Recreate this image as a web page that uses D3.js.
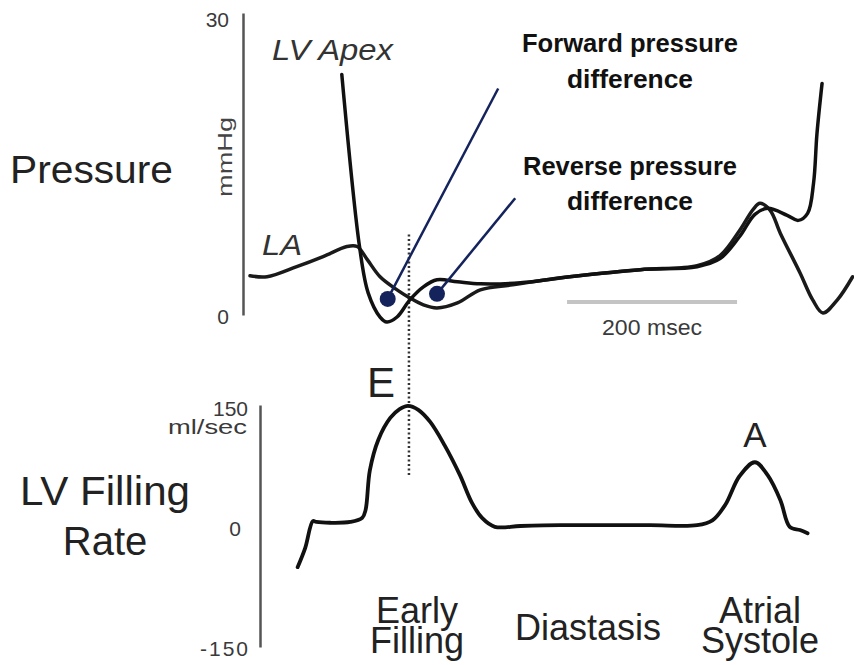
<!DOCTYPE html>
<html>
<head>
<meta charset="utf-8">
<script src="https://cdn.jsdelivr.net/npm/d3@7"></script>
<style>
  body { margin: 0; background: #fff; }
  svg { display: block; }
  text { font-family: "Liberation Sans", Arial, sans-serif; }
</style>
</head>
<body>
<svg id="chart" width="854" height="665"></svg>
<script>
// time in msec, pressure in mmHg, filling rate in ml/sec
const laTime     = [0, 20, 55, 86, 114, 126, 138, 153, 173, 188, 204, 220, 244, 271, 309, 376, 459, 526, 553, 576, 592, 600, 612, 624, 647, 662, 674, 691, 709];
const laPressure = [3.9, 3.8, 4.8, 5.8, 6.8, 6.8, 5.5, 3.8, 2.5, 1.7, 1.0, 0.7, 1.2, 2.5, 3.0, 3.8, 4.5, 4.9, 5.9, 8.4, 10.5, 11.1, 10.4, 8.1, 4.2, 1.5, 0.2, 1.5, 3.8];

const lvTime     = [108, 129, 139, 153, 161, 173, 188, 204, 220, 244, 271, 318, 376, 459, 526, 553, 576, 594, 609, 632, 645, 656, 663, 667, 673];
const lvPressure = [23.9, 6.7, 2.2, -0.2, -0.7, -0.2, 1.5, 2.8, 3.5, 3.3, 3.1, 3.2, 3.8, 4.5, 4.8, 5.6, 7.8, 10.0, 10.6, 9.9, 9.4, 10.1, 13.1, 18, 23];

const flowTime = [56, 65, 74, 78, 94, 118, 132, 136, 141, 151, 165, 176, 186, 198, 212, 229, 247, 261, 273, 288, 318, 365, 412, 471, 526, 544, 559, 576, 594, 609, 624, 635, 647, 656];
const flowRate = [-51, -27, 6, 5, 4, 5, 10, 20, 69, 107, 134, 145, 149, 144, 129, 100, 63, 29, 10, -1, 0, 1, 1, 1, 1, 7, 26, 62, 79, 63, 32, -1, -5, -9];

const pressureTicks = [0, 30];
const flowTicks = [150, 0, -150];

// annotation points: blue dots and where their leader lines end
const dotTime = [162, 220];
const dotPressure = [1.6, 2.1];
const leaderTime = [292, 312];
const leaderPressure = [22.5, 11.6];
const annotationLabels = [["Forward pressure", "difference"], ["Reverse pressure", "difference"]];

const eTime = 187;          // peak E, dotted marker
const scaleBarStart = 373;  // 200 msec bar
const scaleBarMs = 200;

const phaseLabels = [["Early", "Filling"], ["Diastasis"], ["Atrial", "Systole"]];

const svg = d3.select("#chart");

var x = d3.scaleLinear().domain([0, 710]).range([250, 853.5]);
var yP = d3.scaleLinear().domain([0, 30]).range([315, 13]);
var yF = d3.scaleLinear().domain([-150, 150]).range([647, 405]);

// axes
var axP = svg.append("g")
  .attr("transform", "translate(243,0)")
  .call(d3.axisLeft(yP).tickValues(pressureTicks).tickSize(0).tickSizeOuter(0).tickPadding(14).tickFormat(d => String(d)));
axP.selectAll("text").filter(d => d === 30).attr("dy", "0.65em");
axP.selectAll("text").filter(d => d === 0).attr("dy", "0.42em");

var axF = svg.append("g")
  .attr("transform", "translate(260,0)")
  .call(d3.axisLeft(yF).tickValues(flowTicks).tickSize(0).tickSizeOuter(0).tickPadding(12).tickFormat(d => String(d)));
axF.selectAll("text").filter(d => d === 150).attr("dy", "0.5em");
axF.selectAll("text").filter(d => d === 0).attr("dx", "-7").attr("dy", "0.45em");
axF.selectAll("text").filter(d => d === -150).attr("dy", "0.4em").attr("textLength", 48).attr("lengthAdjust", "spacing");

svg.selectAll(".domain").attr("stroke", "#555").attr("stroke-width", 2.5);
svg.selectAll(".tick text").attr("font-size", 21).attr("fill", "#3a3a3a").attr("font-family", "Liberation Sans, Arial, sans-serif");

svg.append("text")
  .attr("transform", "translate(232,157) rotate(-90)")
  .attr("text-anchor", "middle")
  .attr("font-size", 20)
  .attr("fill", "#444")
  .attr("textLength", 80)
  .attr("lengthAdjust", "spacingAndGlyphs")
  .text("mmHg");

svg.append("text")
  .attr("x", 247).attr("y", 434)
  .attr("text-anchor", "end")
  .attr("font-size", 21)
  .attr("fill", "#3a3a3a")
  .attr("textLength", 79)
  .attr("lengthAdjust", "spacingAndGlyphs")
  .text("ml/sec");

// panel titles
svg.append("text").attr("x", 10).attr("y", 183).attr("font-size", 39).attr("fill", "#222")
  .attr("textLength", 163).attr("lengthAdjust", "spacingAndGlyphs").text("Pressure");
svg.append("text").attr("x", 105).attr("y", 505).attr("text-anchor", "middle").attr("font-size", 40).attr("fill", "#222")
  .attr("textLength", 170).attr("lengthAdjust", "spacingAndGlyphs").text("LV Filling");
svg.append("text").attr("x", 105).attr("y", 555).attr("text-anchor", "middle").attr("font-size", 40).attr("fill", "#222").text("Rate");

// 200 msec scale bar
svg.append("line")
  .attr("x1", x(scaleBarStart)).attr("x2", x(scaleBarStart + scaleBarMs))
  .attr("y1", yP(1.3)).attr("y2", yP(1.3))
  .attr("stroke", "#c4c4c4").attr("stroke-width", 4);
svg.append("text")
  .attr("x", x(scaleBarStart + scaleBarMs / 2)).attr("y", 335)
  .attr("text-anchor", "middle").attr("font-size", 22).attr("fill", "#3a3a3a")
  .attr("textLength", 100).attr("lengthAdjust", "spacingAndGlyphs")
  .text(scaleBarMs + " msec");

// dotted line through E peak
svg.append("line")
  .attr("x1", x(eTime)).attr("x2", x(eTime))
  .attr("y1", yP(8)).attr("y2", yF(60))
  .attr("stroke", "#333").attr("stroke-width", 2.5)
  .attr("stroke-dasharray", "2,2.5");

// pressure curves
var pLine = d3.line()
  .x(d => x(d[0])).y(d => yP(d[1]))
  .curve(d3.curveCatmullRom.alpha(0.5));

svg.append("path")
  .datum(d3.zip(laTime, laPressure))
  .attr("d", pLine)
  .attr("fill", "none").attr("stroke", "#1a1a1a").attr("stroke-width", 3.5)
  .attr("stroke-linejoin", "round").attr("stroke-linecap", "round");

svg.append("path")
  .datum(d3.zip(lvTime, lvPressure))
  .attr("d", pLine)
  .attr("fill", "none").attr("stroke", "#111").attr("stroke-width", 3.5)
  .attr("stroke-linejoin", "round").attr("stroke-linecap", "round");

// filling rate curve
var fLine = d3.line()
  .x(d => x(d[0])).y(d => yF(d[1]))
  .curve(d3.curveCatmullRom.alpha(0.5));

svg.append("path")
  .datum(d3.zip(flowTime, flowRate))
  .attr("d", fLine)
  .attr("fill", "none").attr("stroke", "#111").attr("stroke-width", 3.8)
  .attr("stroke-linejoin", "round").attr("stroke-linecap", "round");

// blue leader lines and dots
var navy = "#14235c";
svg.selectAll(".leader")
  .data(d3.range(dotTime.length))
  .enter().append("line")
  .attr("class", "leader")
  .attr("x1", i => x(dotTime[i])).attr("y1", i => yP(dotPressure[i]))
  .attr("x2", i => x(leaderTime[i])).attr("y2", i => yP(leaderPressure[i]))
  .attr("stroke", navy).attr("stroke-width", 2.5);

svg.selectAll(".dot")
  .data(d3.range(dotTime.length))
  .enter().append("circle")
  .attr("class", "dot")
  .attr("cx", i => x(dotTime[i])).attr("cy", i => yP(dotPressure[i]))
  .attr("r", 8)
  .attr("fill", navy);

// annotation texts
var annY = [[52, 88], [175, 210]];
var annW = [[216, 126], [214, 126]];
annotationLabels.forEach(function(lines, i) {
  lines.forEach(function(s, j) {
    svg.append("text")
      .attr("x", 630).attr("y", annY[i][j])
      .attr("text-anchor", "middle")
      .attr("font-family", "Lato, 'Open Sans', sans-serif")
      .attr("font-weight", "bold")
      .attr("font-size", 25)
      .attr("fill", "#111")
      .attr("textLength", annW[i][j])
      .attr("lengthAdjust", "spacingAndGlyphs")
      .text(s);
  });
});

// curve labels
svg.append("text").attr("x", 272).attr("y", 60).attr("font-size", 30).attr("font-style", "italic").attr("fill", "#333")
  .attr("textLength", 121).attr("lengthAdjust", "spacingAndGlyphs").text("LV Apex");
svg.append("text").attr("x", 262).attr("y", 255).attr("font-size", 30).attr("font-style", "italic").attr("fill", "#333")
  .attr("textLength", 40).attr("lengthAdjust", "spacingAndGlyphs").text("LA");
svg.append("text").attr("x", 381).attr("y", 397).attr("text-anchor", "middle").attr("font-size", 42).attr("fill", "#222").text("E");
svg.append("text").attr("x", 755).attr("y", 447).attr("text-anchor", "middle").attr("font-size", 35).attr("fill", "#222").text("A");

// phase labels along the bottom
var phaseX = [417, 588, 760];
var phaseY = [[623, 653], [640], [623, 653]];
phaseLabels.forEach(function(lines, i) {
  lines.forEach(function(s, j) {
    svg.append("text")
      .attr("x", phaseX[i]).attr("y", phaseY[i][j])
      .attr("text-anchor", "middle")
      .attr("font-size", 36)
      .attr("fill", "#222")
      .text(s);
  });
});
</script>
</body>
</html>
